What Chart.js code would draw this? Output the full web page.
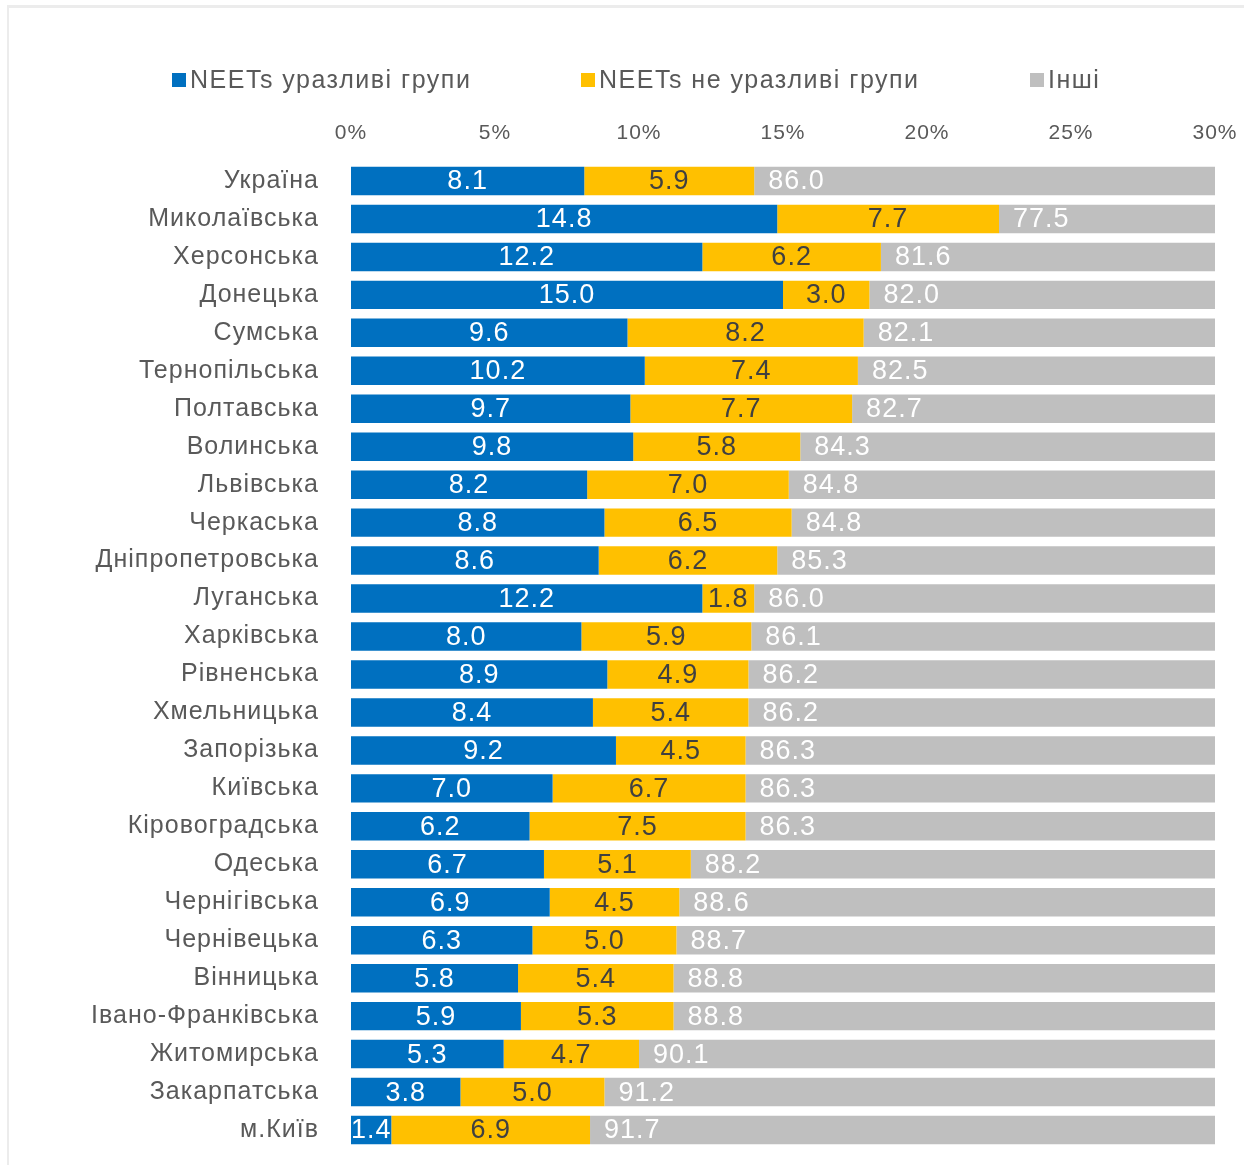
<!DOCTYPE html>
<html>
<head>
<meta charset="utf-8">
<script src="https://cdn.jsdelivr.net/npm/chart.js@4"></script>
<style>
  html, body { margin: 0; padding: 0; background: #fff; }
  body { width: 1244px; height: 1165px; position: relative; overflow: hidden; font-family: "Liberation Sans", Arial, sans-serif; }
  .frame { position: absolute; left: 7px; top: 5px; right: 0; bottom: 0; border-top: 3px solid #ececec; border-left: 2px solid #ececec; }
  .wrap { position: absolute; left: 0; top: 0; width: 1244px; height: 1165px; }
  .legend { position: absolute; top: 64px; left: 0; height: 30px; }
  .legend .item { position: absolute; top: 0; white-space: nowrap; font-size: 25px; letter-spacing: 1.5px; color: #595959; line-height: 30px; }
  .legend .box { display: inline-block; width: 14px; height: 14px; margin-right: 4px; vertical-align: 1px; }
</style>
</head>
<body>
<div class="frame"></div>
<div class="wrap"><canvas id="c" width="1244" height="1165"></canvas></div>
<div class="legend" id="legend"></div>
<script>
const regions = ['Україна', 'Миколаївська', 'Херсонська', 'Донецька', 'Сумська', 'Тернопільська',
  'Полтавська', 'Волинська', 'Львівська', 'Черкаська', 'Дніпропетровська', 'Луганська',
  'Харківська', 'Рівненська', 'Хмельницька', 'Запорізька', 'Київська', 'Кіровоградська',
  'Одеська', 'Чернігівська', 'Чернівецька', 'Вінницька', 'Івано-Франківська', 'Житомирська',
  'Закарпатська', 'м.Київ'];
const vulnerable = [8.1, 14.8, 12.2, 15.0, 9.6, 10.2, 9.7, 9.8, 8.2, 8.8, 8.6, 12.2, 8.0, 8.9, 8.4,
  9.2, 7.0, 6.2, 6.7, 6.9, 6.3, 5.8, 5.9, 5.3, 3.8, 1.4];
const notVulnerable = [5.9, 7.7, 6.2, 3.0, 8.2, 7.4, 7.7, 5.8, 7.0, 6.5, 6.2, 1.8, 5.9, 4.9, 5.4,
  4.5, 6.7, 7.5, 5.1, 4.5, 5.0, 5.4, 5.3, 4.7, 5.0, 6.9];
const others = [86.0, 77.5, 81.6, 82.0, 82.1, 82.5, 82.7, 84.3, 84.8, 84.8, 85.3, 86.0, 86.1, 86.2,
  86.2, 86.3, 86.3, 86.3, 88.2, 88.6, 88.7, 88.8, 88.8, 90.1, 91.2, 91.7];
const seriesNames = ['NEETs уразливі групи', 'NEETs не уразливі групи', 'Інші'];
const xTicks = [0, 5, 10, 15, 20, 25, 30];

const FONT = '"Liberation Sans", Arial, sans-serif';
const colors = ['#0070C0', '#FFC000', '#BFBFBF'];
const labelColors = ['#ffffff', '#404040', '#ffffff'];

// the source font runs wider than Liberation Sans, loosen the letters a bit
const spacing = {
  id: 'spacing',
  beforeDraw(chart) { chart.ctx.letterSpacing = '1px'; }
};

// data labels: centred in blue/yellow, left-aligned near start of the grey part
const barLabels = {
  id: 'barLabels',
  afterDatasetsDraw(chart) {
    const ctx = chart.ctx;
    ctx.save();
    ctx.font = '27px ' + FONT;
    ctx.textBaseline = 'middle';
    chart.data.datasets.forEach((ds, di) => {
      const meta = chart.getDatasetMeta(di);
      meta.data.forEach((bar, i) => {
        const txt = ds.data[i].toFixed(1);
        ctx.fillStyle = labelColors[di];
        if (di === 2) {
          ctx.textAlign = 'left';
          ctx.fillText(txt, bar.base + 14, bar.y + 1);
        } else {
          ctx.textAlign = 'center';
          ctx.fillText(txt, (bar.base + bar.x) / 2, bar.y + 1);
        }
      });
    });
    ctx.restore();
  }
};

const chart = new Chart(document.getElementById('c'), {
  type: 'bar',
  data: {
    labels: regions,
    datasets: [
      { label: seriesNames[0], data: vulnerable, backgroundColor: colors[0] },
      { label: seriesNames[1], data: notVulnerable, backgroundColor: colors[1] },
      { label: seriesNames[2], data: others, backgroundColor: colors[2] },
    ]
  },
  options: {
    indexAxis: 'y',
    responsive: false,
    animation: false,
    layout: { padding: { left: 0, right: 29, top: 100, bottom: 16 } },
    datasets: { bar: { categoryPercentage: 1, barPercentage: 0.75, borderWidth: 0 } },
    plugins: { legend: { display: false }, tooltip: { enabled: false } },
    scales: {
      x: {
        stacked: true, position: 'top', min: 0, max: 30,
        afterBuildTicks: s => { s.ticks = xTicks.map(v => ({ value: v })); },
        afterFit: s => { s.height = 62; s.paddingLeft = 0; s.paddingRight = 0; },
        ticks: { color: '#595959', font: { family: FONT, size: 21 }, padding: 16, maxRotation: 0,
          callback: v => v + '%' },
        grid: { display: false, drawTicks: false },
        border: { display: false }
      },
      y: {
        stacked: true,
        afterFit: s => { s.width = 351; s.paddingTop = 0; s.paddingBottom = 0; },
        ticks: { color: '#595959', font: { family: FONT, size: 25 }, padding: 32, autoSkip: false },
        grid: { display: false, drawTicks: false },
        border: { display: false }
      }
    }
  },
  plugins: [spacing, barLabels]
});

// legend built from the datasets
const legendPos = [172, 581, 1030];
const lg = document.getElementById('legend');
chart.data.datasets.forEach((ds, i) => {
  const it = document.createElement('div');
  it.className = 'item';
  it.style.left = legendPos[i] + 'px';
  it.innerHTML = `<span class="box" style="background:${ds.backgroundColor}"></span>${ds.label}`;
  lg.appendChild(it);
});
</script>
</body>
</html>
